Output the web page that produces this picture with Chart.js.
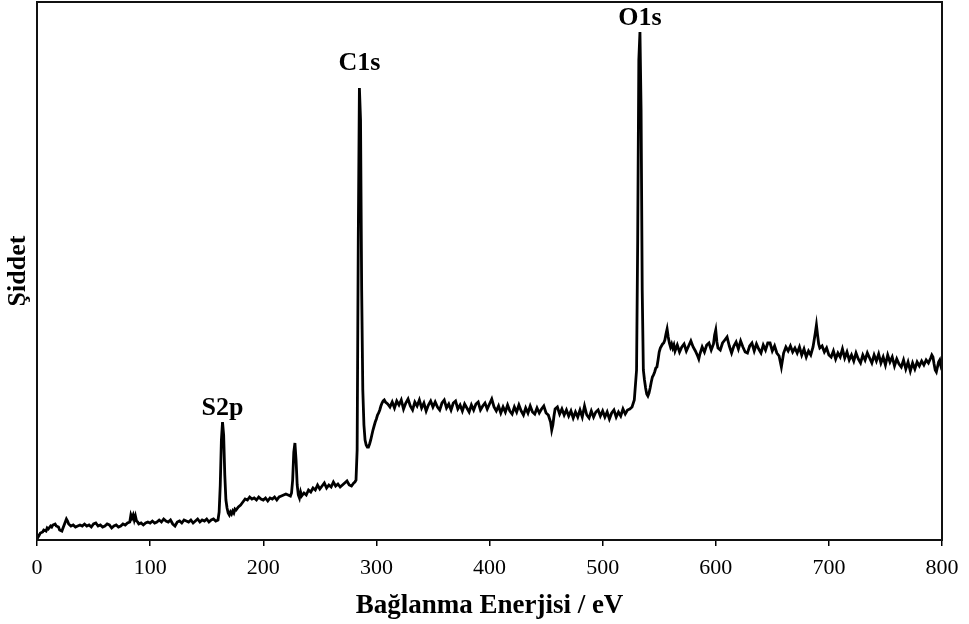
<!DOCTYPE html>
<html>
<head>
<meta charset="utf-8">
<title>XPS</title>
<script src="https://cdn.jsdelivr.net/npm/chart.js@4"></script>
<style>
  html, body { margin: 0; padding: 0; background: #fff; }
  #wrap { width: 969px; height: 624px; }
</style>
</head>
<body>
<div id="wrap"><canvas id="spectrum" width="969" height="624"></canvas></div>
<script>
// binding energy (eV) and counts, same length
var energy = [
  0, 1, 2, 3, 5, 6, 8, 9, 10, 12,
  13, 14, 16, 17, 19, 20, 22, 23, 24, 26,
  27, 28, 30, 32, 34, 36, 38, 40, 42, 44,
  46, 48, 50, 52, 54, 56, 58, 60, 62, 64,
  66, 68, 70, 72, 74, 76, 78, 80, 82, 83,
  84, 85, 86, 87, 88, 89, 90, 92, 94, 96,
  98, 100,
  102, 104, 106, 108, 110, 112, 114, 116, 118, 120,
  122, 124, 126, 128, 130, 132, 134, 136, 138, 140,
  142, 144, 146, 148, 150, 152, 154, 156, 158, 160,
  // S2p
  161, 162, 163, 164, 165, 166, 167, 168, 169, 170,
  171, 172, 173, 174, 175, 176, 178, 180, 182, 184,
  186, 188, 190, 192, 194, 196, 198, 200,
  202, 204, 206, 208, 210, 212, 214, 216, 218, 220,
  222, 224, 225, 226, 227, 228, 229, 230, 231, 232,
  233, 234, 236, 238, 240, 242, 244, 246, 248, 250,
  252, 254, 256, 258, 260, 262, 264, 266, 268, 270,
  272, 274, 276, 278, 280, 281, 282,
  // C1s
  283, 284, 285, 286, 287, 288, 289, 290, 291, 292,
  293, 294, 295, 296, 297, 298, 299, 300, 301, 302,
  303, 304, 305, 306, 307, 308,
  310, 312, 314, 316, 318, 320, 322, 324, 326, 328,
  330, 332, 334, 336, 338, 340, 342, 344, 346, 348,
  350, 352, 354, 356, 358, 360, 362, 364, 366, 368,
  370, 372, 374, 376, 378, 380, 382, 384, 386, 388,
  390, 392, 394, 396, 398, 400, 402, 404, 406, 408,
  410, 412, 414, 416, 418, 420, 422, 424, 426, 428,
  430, 432, 434, 436, 438, 440, 442, 444, 446, 448,
  450, 452, 454, 455, 456, 457, 458, 460, 462, 464,
  466, 468, 470, 472, 474, 476, 478, 480, 482, 484,
  486, 488, 490, 492, 494, 496, 498, 500, 502, 504,
  506, 508, 510, 512, 514, 516, 518, 520, 522, 524,
  526, 528, 530,
  // O1s
  531, 532, 533, 534, 535, 536, 537, 538, 539, 540,
  541, 542, 543, 544, 545, 546, 547, 548, 549, 550,
  551, 552, 553, 554, 555, 556, 557, 558, 559, 560,
  561, 562, 563,
  564, 566, 568, 570, 572, 574, 576, 578, 580, 582,
  584, 585, 586, 588, 590, 592, 594, 596, 598, 599,
  600, 601, 602, 604, 606, 608, 610, 612, 614, 616,
  618, 620, 622, 624, 626, 628, 630, 632, 634, 636,
  638, 640, 642, 644, 646, 648, 650, 652, 654, 656,
  658, 660, 662, 664, 666, 668, 670, 672, 674, 676,
  678, 680, 682, 684, 686, 688, 689, 690, 691, 692,
  694, 696, 698, 700, 702, 704, 706, 708, 710, 712,
  714, 716, 718, 720, 722, 724, 726, 728, 730, 732,
  734, 736, 738, 740, 742, 744, 746, 748, 750, 752,
  754, 756, 758, 760, 762, 764, 766, 768, 770, 772,
  774, 776, 778, 780, 782, 784, 786, 788, 790, 791,
  792, 793, 794, 795, 796, 797, 798, 799, 800
];

var intensity = [
  1, 3, 5, 7, 8, 10, 9, 12, 11, 14,
  13, 15, 16, 14, 13, 10, 9, 12, 15, 21,
  19, 16, 14, 15, 13, 14, 15, 14, 16, 14,
  15, 13, 16, 17, 14, 15, 13, 14, 16, 15,
  12, 14, 15, 13, 14, 16, 15, 17, 18, 25,
  22, 25, 20, 24, 19, 18, 16, 17, 15, 17,
  18, 17,
  19, 17, 18, 20, 18, 21, 19, 18, 20, 16,
  14, 18, 19, 17, 20, 19, 18, 20, 17, 19,
  21, 18, 20, 19, 21, 18, 20, 21, 19, 20,
  // S2p
  28, 55, 100, 118, 105, 65, 40, 32, 27, 25,
  28, 26, 29, 27, 31, 30, 33, 35, 38, 41,
  40, 43, 41, 42, 40, 43, 41, 40,
  42, 39, 42, 41, 43, 40, 43, 44, 45, 46,
  45, 44, 47, 60, 88, 97, 80, 55, 45, 42,
  48, 44, 47, 45, 50, 48, 52, 50, 55, 51,
  54, 57, 52, 55, 53, 58, 54, 56, 53, 55,
  57, 59, 55, 54, 57, 58, 60,
  // C1s
  90, 300, 452, 420, 250, 150, 115, 100, 95, 93,
  93, 96, 100, 105, 110, 114, 118, 121, 125, 127,
  130, 134, 137, 139, 140, 138,
  136, 133, 138, 132, 139, 135, 140, 131, 137, 141,
  134, 130, 138, 134, 140, 132, 137, 129, 135, 139,
  133, 138, 133, 130, 137, 140, 132, 136, 130, 137,
  139, 131, 135, 129, 136, 132, 128, 135, 130, 136,
  138, 130, 134, 137, 131, 136, 141, 133, 129, 134,
  127, 133, 128, 135, 129, 126, 133, 128, 135, 129,
  125, 132, 127, 134, 128, 126, 132, 127, 131, 134,
  127, 125, 118, 110, 115, 124, 131, 133, 126, 131,
  125, 130, 124, 129, 122, 128, 123, 130, 123, 134,
  125, 122, 129, 123, 128, 130, 124, 129, 123, 128,
  121, 127, 130, 123, 128, 124, 131, 126, 130, 131,
  133, 140, 170,
  // O1s
  300, 480, 508, 430, 250, 170, 160, 152, 146, 144,
  147, 152, 158, 163, 165, 168, 172, 173, 180, 188,
  192, 194, 196, 197, 200, 206, 211, 203, 197, 193,
  196, 192, 195,
  189, 195, 188, 193, 196, 189, 194, 199, 193, 189,
  184, 181, 186, 193, 188, 195, 197, 190, 196, 205,
  210, 198, 192, 190, 197, 200, 203, 194, 187, 194,
  198, 191, 199, 193, 188, 187, 194, 197, 189, 196,
  191, 187, 195, 190, 197, 197, 189, 194, 187, 184,
  173, 187, 193, 189, 194, 188, 192, 187, 193, 185,
  191, 183, 189, 185, 193, 207, 215, 205, 196, 192,
  194, 188, 192, 185, 183, 189, 181, 187, 183, 191,
  182, 188, 180, 185, 179, 187, 181, 177, 185, 180,
  187, 182, 177, 185, 179, 186, 177, 183, 175, 185,
  178, 183, 174, 181, 176, 173, 180, 171, 178, 169,
  177, 171, 178, 174, 179, 175, 180, 177, 182, 185,
  183, 176, 170, 168, 173, 178, 180, 174, 170
];

var peakNames = ["S2p", "C1s", "O1s"];
var peakEnergies = [164, 285, 533];

var serif = "'Liberation Serif', 'Times New Roman', serif";

var points = energy.map((e, i) => ({ x: e, y: intensity[i] }));

// box around the plot + peak names above each peak
var framePlugin = {
  id: "frame",
  afterDatasetsDraw(chart, args, opts) {
    var ctx = chart.ctx;
    var a = chart.chartArea;
    var xs = chart.scales.x;
    var ys = chart.scales.y;
    ctx.save();
    ctx.strokeStyle = "#111";
    ctx.lineWidth = 2;
    ctx.strokeRect(a.left, a.top, a.right - a.left, a.bottom - a.top);

    ctx.fillStyle = "#000";
    ctx.font = "bold 26px " + serif;
    ctx.textAlign = "center";
    ctx.textBaseline = "alphabetic";
    peakNames.forEach((name, i) => {
      var idx = energy.indexOf(peakEnergies[i]);
      var px = xs.getPixelForValue(peakEnergies[i]);
      var py = ys.getPixelForValue(intensity[idx]);
      ctx.fillText(name, px, py - opts.gaps[name]);
    });
    ctx.restore();
  }
};

var ctx = document.getElementById("spectrum");
var spectrumChart = new Chart(ctx, {
  type: "line",
  data: {
    datasets: [
      {
        label: "XPS",
        data: points,
        borderColor: "#000",
        borderWidth: 2.8,
        pointRadius: 0,
        tension: 0,
        fill: false
      }
    ]
  },
  options: {
    responsive: false,
    animation: false,
    layout: { padding: { top: 2, right: 27, left: 0, bottom: 0 } },
    plugins: {
      legend: { display: false },
      tooltip: { enabled: false },
      frame: { gaps: { S2p: 7, C1s: 18, O1s: 7 } }
    },
    scales: {
      x: {
        type: "linear",
        min: 0,
        max: 800,
        afterFit: s => { s.height = 84; },
        border: { display: false },
        grid: { drawOnChartArea: false, tickLength: 6, color: "#000", lineWidth: 1.5 },
        ticks: {
          stepSize: 100,
          maxRotation: 0,
          padding: 9,
          color: "#000",
          font: { family: serif, size: 22 }
        },
        title: {
          display: true,
          text: "Bağlanma Enerjisi / eV",
          color: "#000",
          font: { family: serif, size: 27, weight: "bold" },
          padding: { top: 0, bottom: 2 }
        }
      },
      y: {
        min: 0,
        max: 538,
        afterFit: s => { s.width = 37; },
        border: { display: false },
        grid: { display: false },
        ticks: { display: false },
        title: {
          display: true,
          text: "Şiddet",
          color: "#000",
          font: { family: serif, size: 26, weight: "bold" },
          padding: { top: 3, bottom: 0 }
        }
      }
    }
  },
  plugins: [framePlugin]
});
</script>
</body>
</html>
